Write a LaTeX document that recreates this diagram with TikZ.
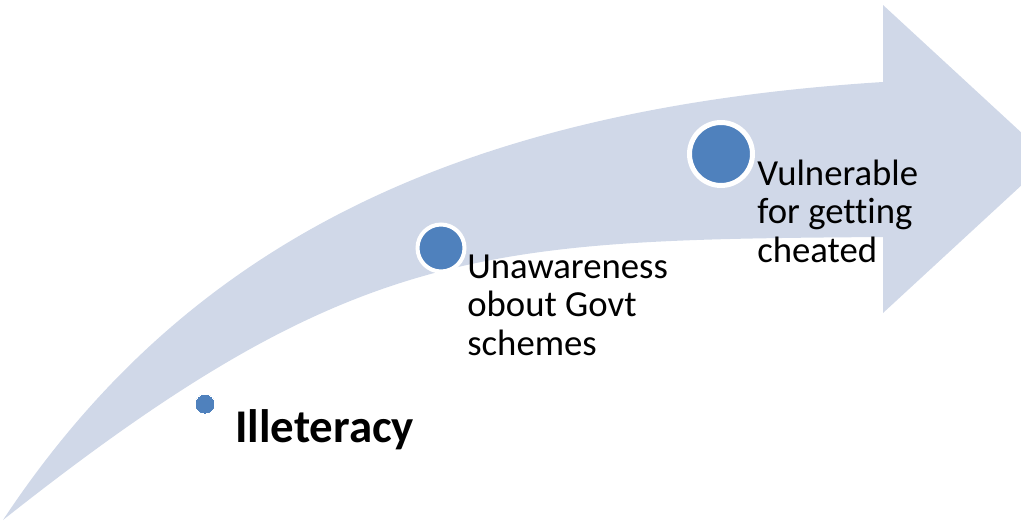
\documentclass[tikz,border=0pt]{standalone}
\usepackage{fontspec}
\setmainfont{Carlito}[Ligatures=NoCommon]
\definecolor{arrowfill}{HTML}{D0D8E8}
\definecolor{dotblue}{HTML}{4F81BD}

\begin{document}
\begin{tikzpicture}[x=0.02cm,y=-0.02cm,
        dot/.style={circle,draw=white,fill=dotblue,inner sep=0pt},
        txt/.style={anchor=base west,inner sep=0pt,align=left,font=\fontsize{20.9}{21.9}\selectfont}
    ]
        % Frame of the picture
        \useasboundingbox (0,0) rectangle (1021,524);
        \clip (0,0) rectangle (1021,524);

        % Draw the curved arrow
        \fill[arrowfill] (3,520) .. controls (185,245) and (455,109) .. (883,82)
            -- (883,5) -- (1050,159) -- (883,313) -- (883,237)
            .. controls (483,240) and (353,243) .. (3,520) -- cycle;

        % Define the nodes
        \node[dot,minimum size=0.4cm,line width=0pt] (S1) at (205,404) {};
        \node[dot,minimum size=0.94cm,line width=0.08cm] (S2) at (441,248) {};
        \node[dot,minimum size=1.26cm,line width=0.1cm] (S3) at (721,154) {};

        % Texts of the steps (base = last line)
        \node[txt,font=\bfseries\fontsize{26.7}{28}\selectfont] (T1) at (235,442) {Illeteracy};
        \node[txt] (T2) at (467,355) {Unawareness\\obout Govt\\schemes};
        \node[txt] (T3) at (757,262) {Vulnerable\\for getting\\cheated};
    \end{tikzpicture}
\end{document}
